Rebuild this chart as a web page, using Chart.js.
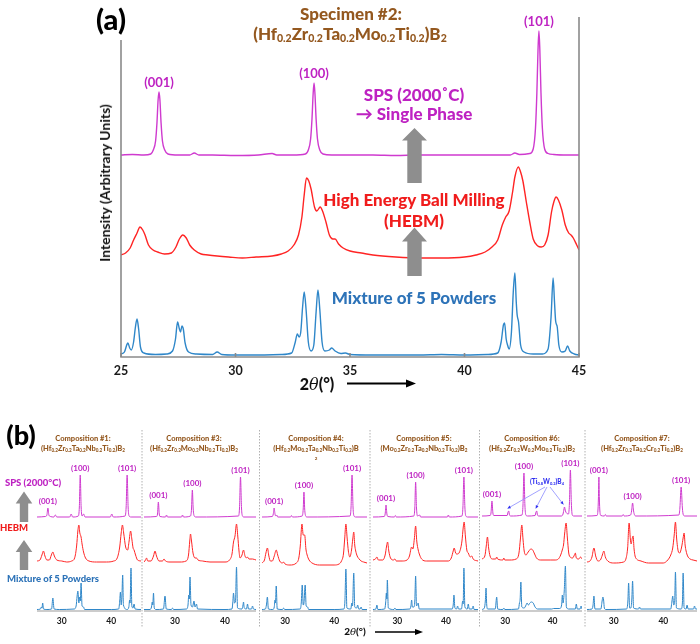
<!DOCTYPE html>
<html><head><meta charset="utf-8">
<script src="https://cdn.jsdelivr.net/npm/chart.js@4"></script>
<style>
body{margin:0;background:#fff;}
#fig{position:relative;width:700px;height:644px;overflow:hidden;background:#fff;font-family:Lato,'Open Sans',sans-serif;}
canvas{position:absolute;}
.t{position:absolute;transform:translate(-50%,-50%);white-space:nowrap;font-weight:900;line-height:1;}
.t sub{font-size:62%;vertical-align:-0.25em;line-height:0;}
svg{position:absolute;left:0;top:0;}
</style></head><body><div id="fig"></div>
<script>
// ---------------- DATA: panel (a) ----------------
const aTicks = [25, 30, 35, 40, 45];
const aHkl = ['(001)', '(100)', '(101)'];
const aHklX = [26.66, 33.43, 43.25];
const a_sps = [[25,202],[25.5,202.5],[26.0,202],[26.3,203],[26.41,207],[26.51,216],[26.57,234],[26.62,257],[26.66,265],[26.70,257],[26.75,234],[26.81,216],[26.91,207],[27.05,203],[27.5,202],[28.0,202],[28.2,204],[28.4,202],[29.0,202],[30.0,201.5],[31.0,202],[31.6,203.5],[31.8,202],[32.5,202],[33.05,203],[33.18,207],[33.28,218],[33.34,238],[33.39,263],[33.43,274],[33.47,263],[33.52,238],[33.58,218],[33.68,207],[33.82,203],[34.2,202],[35,202],[36,202],[37,201.5],[38,202],[39,202],[40,202],[41,202],[42,202],[42.2,204],[42.4,202.5],[42.85,203.5],[43.0,208],[43.1,229],[43.16,264],[43.21,307],[43.25,326],[43.29,307],[43.34,264],[43.40,229],[43.50,208],[43.65,203.5],[43.9,202.5],[44.5,202],[45,202]];
const a_hebm = [[25.0,102],[25.2,104],[25.4,109],[25.55,117],[25.7,124],[25.83,130],[25.95,127],[26.05,122],[26.2,112],[26.4,107],[26.6,105],[26.9,103],[27.2,104],[27.4,110],[27.55,118],[27.7,122],[27.85,119],[28.0,112],[28.2,107],[28.5,103],[28.8,102],[29.2,101],[29.7,100],[30.3,99],[30.9,100],[31.6,101],[32.0,103],[32.3,106],[32.55,112],[32.75,122],[32.9,140],[33.0,162],[33.1,179],[33.2,176],[33.3,168],[33.45,150],[33.55,146],[33.7,150],[33.8,146],[33.95,135],[34.1,122],[34.25,118],[34.35,118],[34.5,113],[34.7,109],[35.0,106],[35.5,104],[36.0,102],[37.0,100],[38.0,99],[39.0,99],[40.0,100],[40.5,102],[40.9,105],[41.2,110],[41.45,117],[41.65,132],[41.8,140],[41.95,146],[42.1,165],[42.2,180],[42.35,190],[42.45,185],[42.55,176],[42.7,155],[42.85,135],[43.0,118],[43.2,111],[43.35,110],[43.5,112],[43.65,122],[43.8,145],[43.9,155],[44.0,160],[44.1,157],[44.25,147],[44.4,132],[44.55,124],[44.65,122],[44.75,119],[44.9,112],[45.0,107]];
const a_mix = [[25.0,3],[25.15,5],[25.25,12],[25.3,14],[25.38,9],[25.45,7],[25.55,15],[25.63,30],[25.7,38],[25.77,28],[25.85,10],[26.0,4],[26.5,2.5],[27.0,3],[27.25,6],[27.38,18],[27.47,35],[27.55,28],[27.6,25],[27.66,31],[27.72,28],[27.8,14],[27.95,5],[28.3,3],[29.0,2.5],[29.2,5],[29.4,2.5],[30.0,2],[31.0,2],[32.0,2.5],[32.45,4],[32.6,14],[32.7,23],[32.78,20],[32.85,25],[32.93,50],[33.0,65],[33.08,48],[33.18,15],[33.3,6],[33.42,12],[33.52,45],[33.6,67],[33.68,48],[33.78,15],[33.9,6],[34.1,7],[34.2,9],[34.35,6],[34.6,3.5],[34.8,4],[35.0,2.5],[36,2],[37,2],[38,2],[39,2.5],[40,2],[41,2.5],[41.45,4],[41.6,15],[41.7,32],[41.75,34],[41.82,18],[41.88,12],[41.95,8],[42.05,25],[42.13,65],[42.2,84],[42.26,55],[42.3,42],[42.36,35],[42.45,12],[42.6,5],[43.0,3],[43.4,3],[43.65,8],[43.78,40],[43.87,79],[43.93,55],[43.98,36],[44.05,30],[44.12,12],[44.25,5],[44.4,6],[44.5,11],[44.6,6],[44.8,3],[45.0,2]];

// ---------------- DATA: panel (b) ----------------
const bTicks = [30, 40];
const bMin = [25, 23.8, 25.3, 25, 25.1, 24.6];
const bMax = [46, 46.2, 46.7, 46.6, 46.2, 46.8];
const bHkl = ['(001)', '(100)', '(101)'];
const bHklX = [[27.2,33.73,43.2],[26.67,33.47,43.1],[27.77,33.85,43.65],[27.68,33.77,43.7],[27.2,33.95,43.75],[27.0,33.8,43.6]];
const compNames = ['Composition #1:','Composition #3:','Composition #4:','Composition #5:','Composition #6:','Composition #7:'];
const compElems = [['Hf','Zr','Ta','Nb','Ti'],['Hf','Zr','Mo','Nb','Ti'],['Hf','Mo','Ta','Nb','Ti'],['Mo','Zr','Ta','Nb','Ti'],['Hf','Zr','W','Mo','Ti'],['Hf','Zr','Ta','Cr','Ti']];
const tiwPeaks = [30.7, 36.65, 42.5];

const b_sps = [
 [[25,94],[26.7,94.5],[27.0,96],[27.2,103],[27.4,96],[27.7,94.5],[28.4,94],[28.7,96],[29.0,94],[31.6,94],[31.9,97],[32.2,94],[33.35,95],[33.55,104],[33.73,136],[33.91,104],[34.1,95],[34.4,97],[34.7,94],[39.8,94],[40.1,97],[40.4,94],[42.8,95],[43.0,104],[43.2,136],[43.4,104],[43.6,95],[44.0,94],[46,94]],
 [[23.8,94],[26.3,94.5],[26.5,97],[26.67,109],[26.85,97],[27.0,94.5],[28.1,94],[28.3,96],[28.5,94],[31.3,94],[31.5,96],[31.7,94],[33.1,95],[33.3,102],[33.47,121],[33.64,102],[33.85,95],[34.2,94],[42.7,95],[42.9,103],[43.1,134],[43.3,103],[43.5,95],[43.8,94],[46.2,94]],
 [[25.3,94],[27.4,94.5],[27.6,97],[27.77,103],[27.95,97],[28.1,95],[28.3,96],[28.5,94],[31.1,94],[31.3,95.5],[31.5,94],[33.5,95],[33.7,102],[33.85,119],[34.0,102],[34.2,95],[34.5,94],[43.25,95],[43.45,104],[43.65,136],[43.85,104],[44.05,95],[44.4,94],[46.7,94]],
 [[25,94],[27.3,94.5],[27.5,97],[27.68,106],[27.86,97],[28.05,94.5],[29.4,94],[29.6,95.5],[29.8,94],[33.4,95],[33.6,103],[33.77,129],[33.95,103],[34.15,95],[34.6,96],[34.8,94],[40.3,94],[40.5,96],[40.7,94],[43.3,95],[43.5,104],[43.7,134],[43.9,104],[44.1,95],[44.5,94],[46.6,94]],
 [[25.1,95],[26.8,95.5],[27.0,98],[27.2,110],[27.4,98],[27.6,95.5],[30.4,95.5],[30.6,99],[30.75,100],[30.9,96],[31.2,95],[33.55,96],[33.75,106],[33.95,138],[34.15,106],[34.35,96],[34.7,95],[36.3,95.5],[36.5,99],[36.65,100],[36.8,96],[37.1,95],[41.8,95],[42.2,97],[42.4,102],[42.5,104],[42.7,100],[43.35,97],[43.55,108],[43.75,141],[43.95,108],[44.15,96],[44.5,95],[46.2,95]],
 [[24.6,95],[26.6,95.5],[26.8,100],[26.9,112],[27.0,134],[27.1,112],[27.2,100],[27.4,95.5],[28.1,95],[28.3,96.5],[28.5,95],[31.7,95],[31.9,96.5],[32.1,95],[33.4,96],[33.6,100],[33.8,108],[34.0,100],[34.2,96],[34.5,95],[43.15,96],[43.35,103],[43.6,124],[43.85,103],[44.05,96],[44.4,95],[46.8,95]]
];
const b_hebm = [
 [[25,50],[25.6,51],[26.0,56],[26.3,60],[26.6,55],[27.0,51],[27.5,51],[27.9,56],[28.2,59],[28.5,55],[29.0,51],[30,50],[31,49],[32,50],[32.6,53],[33.0,65],[33.25,80],[33.45,86],[33.65,78],[33.9,74],[34.1,67],[34.4,59],[34.8,53],[35.5,50],[37,49],[39,49],[40.5,50],[41.2,53],[41.7,64],[42.0,78],[42.25,86],[42.5,78],[42.9,64],[43.3,61],[43.6,70],[43.9,80],[44.15,72],[44.4,63],[44.6,61],[44.9,56],[45.3,51],[46,50]],
 [[23.8,49],[24.1,51],[24.3,53],[24.55,50],[25.2,50],[25.7,55],[26.0,60],[26.3,55],[26.8,50],[27.5,50],[27.8,52],[28.1,50],[29,49],[31,49],[32.2,50],[32.7,56],[32.95,70],[33.1,77],[33.3,70],[33.6,58],[34.0,53],[34.3,53],[34.6,51],[35.5,50],[37,49],[40,49],[40.9,51],[41.4,57],[41.7,69],[42.0,75],[42.3,87],[42.55,75],[42.8,60],[43.0,53],[43.4,56],[43.7,61],[44.0,55],[44.3,53],[44.5,54],[44.8,52],[45.5,52],[46.2,51]],
 [[25.3,48],[25.8,51],[26.1,58],[26.4,63],[26.7,55],[27.0,50],[27.4,50],[27.8,55],[28.2,61],[28.5,56],[28.9,50],[29.5,48],[29.7,49],[30,47],[31,46],[32.3,48],[32.8,53],[33.1,65],[33.45,87],[33.7,76],[34.0,76],[34.25,62],[34.5,56],[34.9,51],[35.5,48],[37,46],[40,46],[41,47],[41.5,50],[41.9,57],[42.15,72],[42.4,87],[42.65,73],[42.9,60],[43.2,54],[43.55,61],[43.8,72],[44.0,79],[44.2,66],[44.4,60],[44.7,55],[45.1,52],[45.5,50],[46.0,49],[46.7,48]],
 [[25,51],[25.5,52],[25.8,54],[26.1,51],[27.0,51],[27.5,56],[27.8,65],[28.0,69],[28.25,60],[28.6,53],[29.2,51],[29.5,52],[29.8,50],[31,50],[32,51],[32.5,55],[32.95,64],[33.2,62],[33.5,72],[33.77,85],[34.0,70],[34.3,61],[34.6,56],[35.0,52],[36,50],[40.5,50],[41.1,53],[41.5,60],[41.7,63],[42.0,58],[42.3,57],[42.8,59],[43.3,70],[43.55,83],[43.75,89],[44.0,75],[44.3,61],[44.6,58],[45.0,54],[45.3,55],[45.6,52],[46.6,50]],
 [[25.1,52],[25.7,55],[26.0,65],[26.25,74],[26.5,63],[26.8,55],[27.3,52],[28.0,52],[28.2,54],[28.4,52],[29.5,51],[29.7,53],[29.9,51],[31,51],[32.3,52],[32.9,58],[33.2,72],[33.5,86],[33.75,72],[34.0,60],[34.4,56],[34.7,58],[35.0,60],[35.4,62],[35.8,61],[36.2,57],[36.6,53],[37.5,51],[39.5,51],[40.5,51],[41.2,52],[41.7,56],[42.1,62],[42.3,66],[42.55,78],[42.85,88],[43.1,74],[43.4,58],[43.7,54],[44.2,53],[44.6,56],[44.8,58],[45.0,53],[45.5,52],[45.9,54],[46.2,52]],
 [[24.6,49],[25.2,50],[25.6,54],[26.0,63],[26.35,55],[26.8,50],[27.3,51],[27.7,56],[28.0,60],[28.3,54],[28.8,50],[30,48],[32,49],[32.5,53],[32.8,63],[33.1,88],[33.35,72],[33.5,67],[33.75,73],[33.9,75],[34.1,62],[34.3,55],[34.6,52],[35.5,50],[37,48],[40,48],[40.9,51],[41.5,56],[41.9,63],[42.2,76],[42.45,89],[42.7,72],[43.0,60],[43.3,58],[43.7,64],[44.0,73],[44.2,78],[44.4,66],[44.6,60],[44.9,55],[45.4,52],[46.0,51],[46.8,50]]
];
const b_mix = [
 [[25,1.5],[25.7,2],[25.9,4],[26.0,3],[26.15,8],[26.3,2],[27.0,1.5],[27.95,2],[28.2,13],[28.45,2],[29.5,1.5],[32.5,2],[32.9,5],[33.1,15],[33.25,20],[33.45,8],[33.6,14],[33.75,10],[33.9,28],[34.1,5],[34.4,4],[34.6,1.5],[40,1.5],[41.5,2],[41.7,10],[41.85,19],[42.0,6],[42.15,15],[42.3,36],[42.45,6],[43.2,1.5],[43.55,4],[43.7,11],[43.8,8],[43.98,43],[44.15,5],[44.4,3],[44.6,7],[44.8,2],[46,1.5]],
 [[23.8,1.5],[25.0,1.5],[25.3,4],[25.45,9],[25.55,6],[25.7,18],[25.85,3],[26.2,1.5],[27.7,2],[28.0,15],[28.25,2],[29.3,1.5],[29.5,3],[29.7,1.5],[32.3,2],[32.6,6],[32.75,16],[32.85,12],[33.0,34],[33.2,6],[33.5,4],[33.8,10],[34.0,4],[34.3,7],[34.5,2],[40,1.5],[41.4,2],[41.55,8],[41.7,18],[41.9,8],[42.1,10],[42.3,44],[42.5,3],[43.4,2],[43.6,6],[43.7,9],[43.85,3],[44.3,2],[44.5,7],[44.7,2],[45.3,2],[45.5,5],[45.7,2],[46.2,1.5]],
 [[25.3,1.5],[26.0,2],[26.2,6],[26.4,14],[26.6,2],[27.5,1.5],[27.8,4],[27.95,11],[28.05,8],[28.2,25],[28.4,2],[29.5,1.5],[29.7,3],[29.9,1.5],[33.1,2],[33.3,8],[33.5,26],[33.7,6],[33.85,8],[34.1,26],[34.3,5],[34.6,4],[34.8,1.5],[40,1.5],[42.0,2],[42.2,10],[42.4,42],[42.6,3],[43.4,2],[43.6,8],[43.75,5],[44.0,38],[44.2,4],[44.6,3],[44.8,6],[45.0,2],[45.3,2],[45.5,4],[45.7,1.5],[46.7,1.5]],
 [[25,1.5],[25.6,2],[25.8,6],[26.0,1.5],[27.4,2],[27.6,8],[27.75,18],[27.85,12],[27.95,31],[28.15,3],[29.3,1.5],[29.5,3],[29.7,1.5],[32.6,2],[32.8,5],[32.95,11],[33.1,4],[33.4,4],[33.6,10],[33.77,35],[33.95,5],[34.3,8],[34.5,2],[41.3,2],[41.5,6],[41.65,16],[41.85,3],[42.2,2],[42.4,5],[42.6,2],[43.2,2],[43.45,10],[43.55,7],[43.7,43],[43.9,4],[44.4,2],[44.6,7],[44.8,2],[45.4,2],[45.6,5],[45.8,1.5],[46.6,1.5]],
 [[25.1,1.5],[25.6,3],[25.8,10],[25.95,23],[26.1,6],[26.3,2],[27.9,2],[28.2,14],[28.4,2],[29.5,1.5],[29.7,3],[29.9,1.5],[32.8,2],[33.0,8],[33.15,12],[33.3,29],[33.5,4],[34.0,3],[34.4,6],[34.6,8],[34.9,6],[35.2,8],[35.5,9],[35.9,8],[36.3,4],[36.8,2],[39.8,2],[40.2,2.5],[41.5,2.5],[41.9,6],[42.05,16],[42.2,8],[42.45,20],[42.7,45],[42.9,4],[43.4,2],[44.8,2],[45.0,7],[45.2,2],[45.8,2],[46.0,5],[46.2,2]],
 [[24.6,1.5],[25.6,2],[25.8,5],[26.0,15],[26.2,2],[27.4,2],[27.65,10],[27.8,14],[27.95,11],[28.1,3],[28.4,1.5],[32.6,2],[32.85,10],[33.0,28],[33.2,3],[33.45,3],[33.65,12],[33.8,30],[34.0,3],[35.0,2],[35.2,4],[35.4,2],[41.5,2],[41.75,10],[41.9,15],[42.1,6],[42.3,10],[42.45,39],[42.65,3],[43.6,2],[43.85,8],[44.0,38],[44.2,3],[44.6,2],[44.8,6],[45.0,2],[46.1,2],[46.3,5],[46.5,2],[46.8,2]]
];

// ---------------- STYLE / LAYOUT ----------------
const C_SPS = '#CF3ACF', C_HEBM = '#FF2424', C_MIX = '#2F87C9';
const T_SPS = '#BE22C2', T_HEBM = '#F01C1C', T_MIX = '#2D73B8', BROWN = '#94581F', GREY = '#8E8E8E';
const FONT = "Lato, 'Open Sans', sans-serif";
const fig = document.getElementById('fig');

const deco = {
  id: 'deco',
  afterDatasetsDraw(chart, args, o) {
    const ctx = chart.ctx, a = chart.chartArea, xs = chart.scales.x, ys = chart.scales.y;
    ctx.save();
    ctx.strokeStyle = o.frameColor; ctx.lineWidth = o.frameWidth;
    ctx.beginPath();
    if (o.box) {
      ctx.moveTo(a.left, a.top + o.leftGap); ctx.lineTo(a.left, a.bottom);
      ctx.lineTo(a.right, a.bottom); ctx.lineTo(a.right, a.top);
    } else {
      ctx.moveTo(a.left, a.bottom); ctx.lineTo(a.right, a.bottom);
    }
    ctx.stroke();
    if (o.tickLen) {
      ctx.beginPath();
      xs.ticks.forEach(t => { const px = xs.getPixelForValue(t.value); ctx.moveTo(px, a.bottom); ctx.lineTo(px, a.bottom - o.tickLen); });
      ctx.stroke();
    }
    const ds = chart.data.datasets[0];
    ctx.fillStyle = o.labelColor; ctx.font = o.labelFont; ctx.textAlign = 'center'; ctx.textBaseline = 'middle';
    o.labels.forEach((lab, i) => {
      const x = o.labelX[i]; let top = -Infinity;
      ds.data.forEach(p => { if (Math.abs(p.x - x) < 0.35 && p.y > top) top = p.y; });
      ctx.fillText(lab, xs.getPixelForValue(x), ys.getPixelForValue(top) - o.labelOffset);
    });
    if (o.tiw) {
      const ox = chart.canvas.offsetLeft, oy = chart.canvas.offsetTop;
      ctx.strokeStyle = '#8A8AFF'; ctx.fillStyle = '#3030F0'; ctx.lineWidth = 0.8;
      o.tiw.peaks.forEach((x, i) => {
        let top = -Infinity;
        ds.data.forEach(p => { if (Math.abs(p.x - x) < 0.3 && p.y > top) top = p.y; });
        const ex = xs.getPixelForValue(x) - 1, ey = ys.getPixelForValue(top) - 2.5;
        const sx = o.tiw.start[i][0] - ox, sy = o.tiw.start[i][1] - oy;
        ctx.beginPath(); ctx.moveTo(sx, sy); ctx.lineTo(ex, ey); ctx.stroke();
        const ang = Math.atan2(ey - sy, ex - sx);
        ctx.beginPath(); ctx.moveTo(ex, ey);
        ctx.lineTo(ex - 3.5 * Math.cos(ang - 0.45), ey - 3.5 * Math.sin(ang - 0.45));
        ctx.lineTo(ex - 3.5 * Math.cos(ang + 0.45), ey - 3.5 * Math.sin(ang + 0.45));
        ctx.closePath(); ctx.fill();
      });
    }
    ctx.restore();
  }
};

function pts(arr) { return arr.map(p => ({ x: p[0], y: p[1] })); }
function addCanvas(l, t, w, h) {
  const c = document.createElement('canvas');
  c.width = w; c.height = h; c.style.left = l + 'px'; c.style.top = t + 'px';
  c.style.width = w + 'px'; c.style.height = h + 'px';
  fig.appendChild(c); return c;
}
function line(data, color, w) {
  return { data: pts(data), borderColor: color, borderWidth: w, pointRadius: 0, fill: false, cubicInterpolationMode: 'monotone' };
}
function makeChart(canvas, datasets, xmin, xmax, ymax, ticks, tickFont, tickPad, axisH, pad, decoOpts) {
  return new Chart(canvas, {
    type: 'line',
    data: { datasets },
    options: {
      responsive: false, animation: false, events: [],
      layout: { padding: pad },
      plugins: { legend: { display: false }, tooltip: { enabled: false }, deco: decoOpts },
      scales: {
        x: {
          type: 'linear', min: xmin, max: xmax,
          afterBuildTicks: s => { s.ticks = ticks.map(v => ({ value: v })); },
          afterFit: s => { s.height = axisH; },
          grid: { display: false, drawTicks: false, tickLength: 0 }, border: { display: false },
          ticks: { padding: tickPad, color: '#1a1a1a', font: tickFont, maxRotation: 0, autoSkip: false }
        },
        y: { display: false, min: 0, max: ymax }
      }
    },
    plugins: [deco]
  });
}

// ---------- panel (a) chart: plot area x 121..579, y 17..357 ----------
{
  const padL = 20, padT = 5, axisH = 30, plotW = 458, plotH = 340;
  const cv = addCanvas(121 - padL, 17 - padT, plotW + 2 * padL, padT + plotH + axisH);
  makeChart(cv, [line(a_sps, C_SPS, 1.4), line(a_hebm, C_HEBM, 1.4), line(a_mix, C_MIX, 1.4)],
    25, 45, plotH, aTicks, { family: FONT, size: 12.5, weight: 'bold' }, 6, axisH,
    { left: padL, right: padL, top: padT, bottom: 0 },
    { box: true, leftGap: 23, frameColor: '#8a8a8a', frameWidth: 1.6, tickLen: 4,
      labels: aHkl, labelX: aHklX, labelColor: T_SPS, labelFont: 'bold 13px ' + FONT, labelOffset: 9.5 });
}

// ---------- panel (b) charts ----------
const bLeft = [37, 144, 262, 373, 482, 587];
const bRight = [140.5, 256, 367.3, 478.1, 581.6, 696.8];
for (let i = 0; i < 6; i++) {
  const padL = 6, padT = 5, axisH = 20, plotH = 156;
  const w = Math.round(bRight[i] - bLeft[i]);
  const cv = addCanvas(bLeft[i] - padL, 455 - padT, w + 2 * padL, padT + plotH + axisH);
  const opts = { box: false, frameColor: '#9a9a9a', frameWidth: 1.2, tickLen: 0,
    labels: bHkl, labelX: bHklX[i], labelColor: T_SPS, labelFont: 'bold 8px ' + FONT, labelOffset: 6.5 };
  if (i === 4) opts.tiw = { peaks: tiwPeaks, start: [[545, 487], [547, 487], [550, 487]] };
  makeChart(cv, [line(b_sps[i], C_SPS, 1.0), line(b_hebm[i], C_HEBM, 1.0), line(b_mix[i], C_MIX, 1.0)],
    bMin[i], bMax[i], plotH, bTicks, { family: FONT, size: 8.5, weight: 'bold' }, 5, axisH,
    { left: padL, right: padL, top: padT, bottom: 0 }, opts);
}

// ---------- text ----------
function txt(html, x, y, size, color, extra) {
  const d = document.createElement('div'); d.className = 't'; d.innerHTML = html;
  d.style.left = x + 'px'; d.style.top = y + 'px'; d.style.fontSize = size + 'px'; d.style.color = color;
  if (extra) Object.assign(d.style, extra);
  fig.appendChild(d); return d;
}
function formula(els, sub, tail) { return '(' + els.map(e => e + '<sub>0.2</sub>').join('') + ')B' + (tail === false ? '' : '<sub>' + sub + '</sub>'); }

txt('(a)', 111, 18, 29, '#000');
txt('Specimen #2:', 351, 13, 17, BROWN);
txt(formula(['Hf','Zr','Ta','Mo','Ti'], 2), 350, 33, 17, BROWN);
txt('SPS (2000˚C)', 414, 94, 17, T_SPS);
txt('\u2192 Single Phase', 414, 113, 17, T_SPS);
txt('High Energy Ball Milling', 414, 199, 17, T_HEBM);
txt('(HEBM)', 414, 220, 17, T_HEBM);
txt('Mixture of 5 Powders', 414, 297, 17, T_MIX);
txt('Intensity (Arbitrary Units)', 105, 183, 14, '#111', { transform: 'translate(-50%,-50%) rotate(-90deg)', fontWeight: 'bold' });
txt('2<i style="font-family:\'DejaVu Serif\';font-weight:normal">θ</i>(°)', 317, 384, 16, '#111');

txt('(b)', 21, 434, 27, '#000');
txt('SPS (2000°C)', 33, 483, 9.5, T_SPS);
txt('HEBM', 14, 528, 9.5, T_HEBM);
txt('Mixture of 5 Powders', 53, 579, 9.5, T_MIX);
const compX = [83, 194, 316, 424, 532, 642];
for (let i = 0; i < 6; i++) {
  txt(compNames[i], compX[i], 439, 7.5, BROWN);
  txt(formula(compElems[i], 2, i !== 2), compX[i], 449, 7.5, BROWN);
}
txt('2', 316, 459, 4.5, BROWN);
txt('(Ti<sub>0.8</sub>W<sub>0.2</sub>)B<sub>4</sub>', 547, 482, 6.5, '#3030F0');
txt('2<i style="font-family:\'DejaVu Serif\';font-weight:normal">θ</i>(°)', 355, 631, 10, '#111');

// ---------- decorations: block arrows, axis arrows, separators ----------
function upArrow(cx, tip, base, bottom, hw, sw) {
  return `<polygon points="${cx},${tip} ${cx + hw},${base} ${cx + sw},${base} ${cx + sw},${bottom} ${cx - sw},${bottom} ${cx - sw},${base} ${cx - hw},${base}" fill="${GREY}"/>`;
}
let svg = `<svg width="700" height="644" xmlns="http://www.w3.org/2000/svg">`;
svg += upArrow(414.5, 128, 140.5, 183, 12.5, 7.2);
svg += upArrow(414.5, 227.5, 241.5, 276, 12.5, 7.2);
svg += upArrow(24, 491.5, 503.5, 522, 8.3, 4.2);
svg += upArrow(24, 540, 552, 570, 8.3, 4.2);
svg += `<line x1="347" y1="383.5" x2="408" y2="383.5" stroke="#000" stroke-width="2"/><polygon points="416,383.5 406,379.5 406,387.5" fill="#000"/>`;
svg += `<line x1="375" y1="632" x2="417" y2="632" stroke="#000" stroke-width="1.5"/><polygon points="423,632 415,629 415,635" fill="#000"/>`;
[142, 259.5, 370, 479.5, 585].forEach(x => {
  svg += `<line x1="${x}" y1="430" x2="${x}" y2="628" stroke="#b0b0b0" stroke-width="1" stroke-dasharray="1.5,1.5"/>`;
});
svg += `</svg>`;
const holder = document.createElement('div'); holder.innerHTML = svg; fig.appendChild(holder.firstChild);
</script>
</body></html>
